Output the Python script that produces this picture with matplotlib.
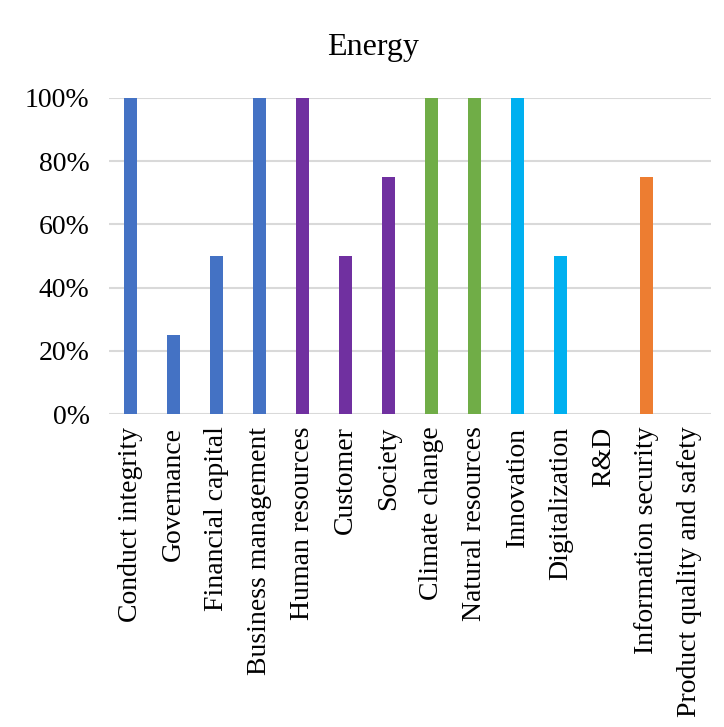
import matplotlib
matplotlib.use("Agg")
import matplotlib.pyplot as plt
from matplotlib.ticker import PercentFormatter

categories = ["Conduct integrity", "Governance", "Financial capital", "Business management",
              "Human resources", "Customer", "Society", "Climate change", "Natural resources",
              "Innovation", "Digitalization", "R&D", "Information security",
              "Product quality and safety"]
values = [100, 25, 50, 100, 100, 50, 75, 100, 100, 100, 50, 0, 75, 0]
groups = ["blue", "blue", "blue", "blue", "purple", "purple", "purple", "green", "green",
          "cyan", "cyan", "cyan", "orange", "orange"]
palette = {"blue": "#4472C4", "purple": "#7030A0", "green": "#70AD47",
           "cyan": "#00B0F0", "orange": "#ED7D31"}

plt.rcParams['font.family'] = ['Liberation Serif', 'DejaVu Serif']

fig = plt.figure(figsize=(7.24, 7.27), dpi=100)
ax = fig.add_axes([0.1506, 0.4305, 0.8314, 0.4347])
x = range(len(categories))
ax.bar(x, values, width=0.32, color=[palette[g] for g in groups], zorder=3)
ax.set_xlim(-0.5, len(categories) - 0.5)
ax.set_ylim(0, 100)
ax.set_yticks([0, 20, 40, 60, 80, 100])
ax.yaxis.set_major_formatter(PercentFormatter(decimals=0))
ax.set_xticks(list(x))
ax.set_xticklabels(categories, rotation=90)
ax.tick_params(axis='both', length=0, labelsize=20, colors='black')
ax.tick_params(axis='x', pad=9)
ax.tick_params(axis='y', pad=14)
ax.grid(axis='y', color='#D9D9D9', linewidth=1.5, zorder=0)
ax.set_axisbelow(True)
for s in ax.spines.values():
    s.set_visible(False)
fig.text(0.515, 1 - 48 / 727, "Energy", fontsize=23, ha='center', va='center')
fig.savefig("out.png", dpi=100)
